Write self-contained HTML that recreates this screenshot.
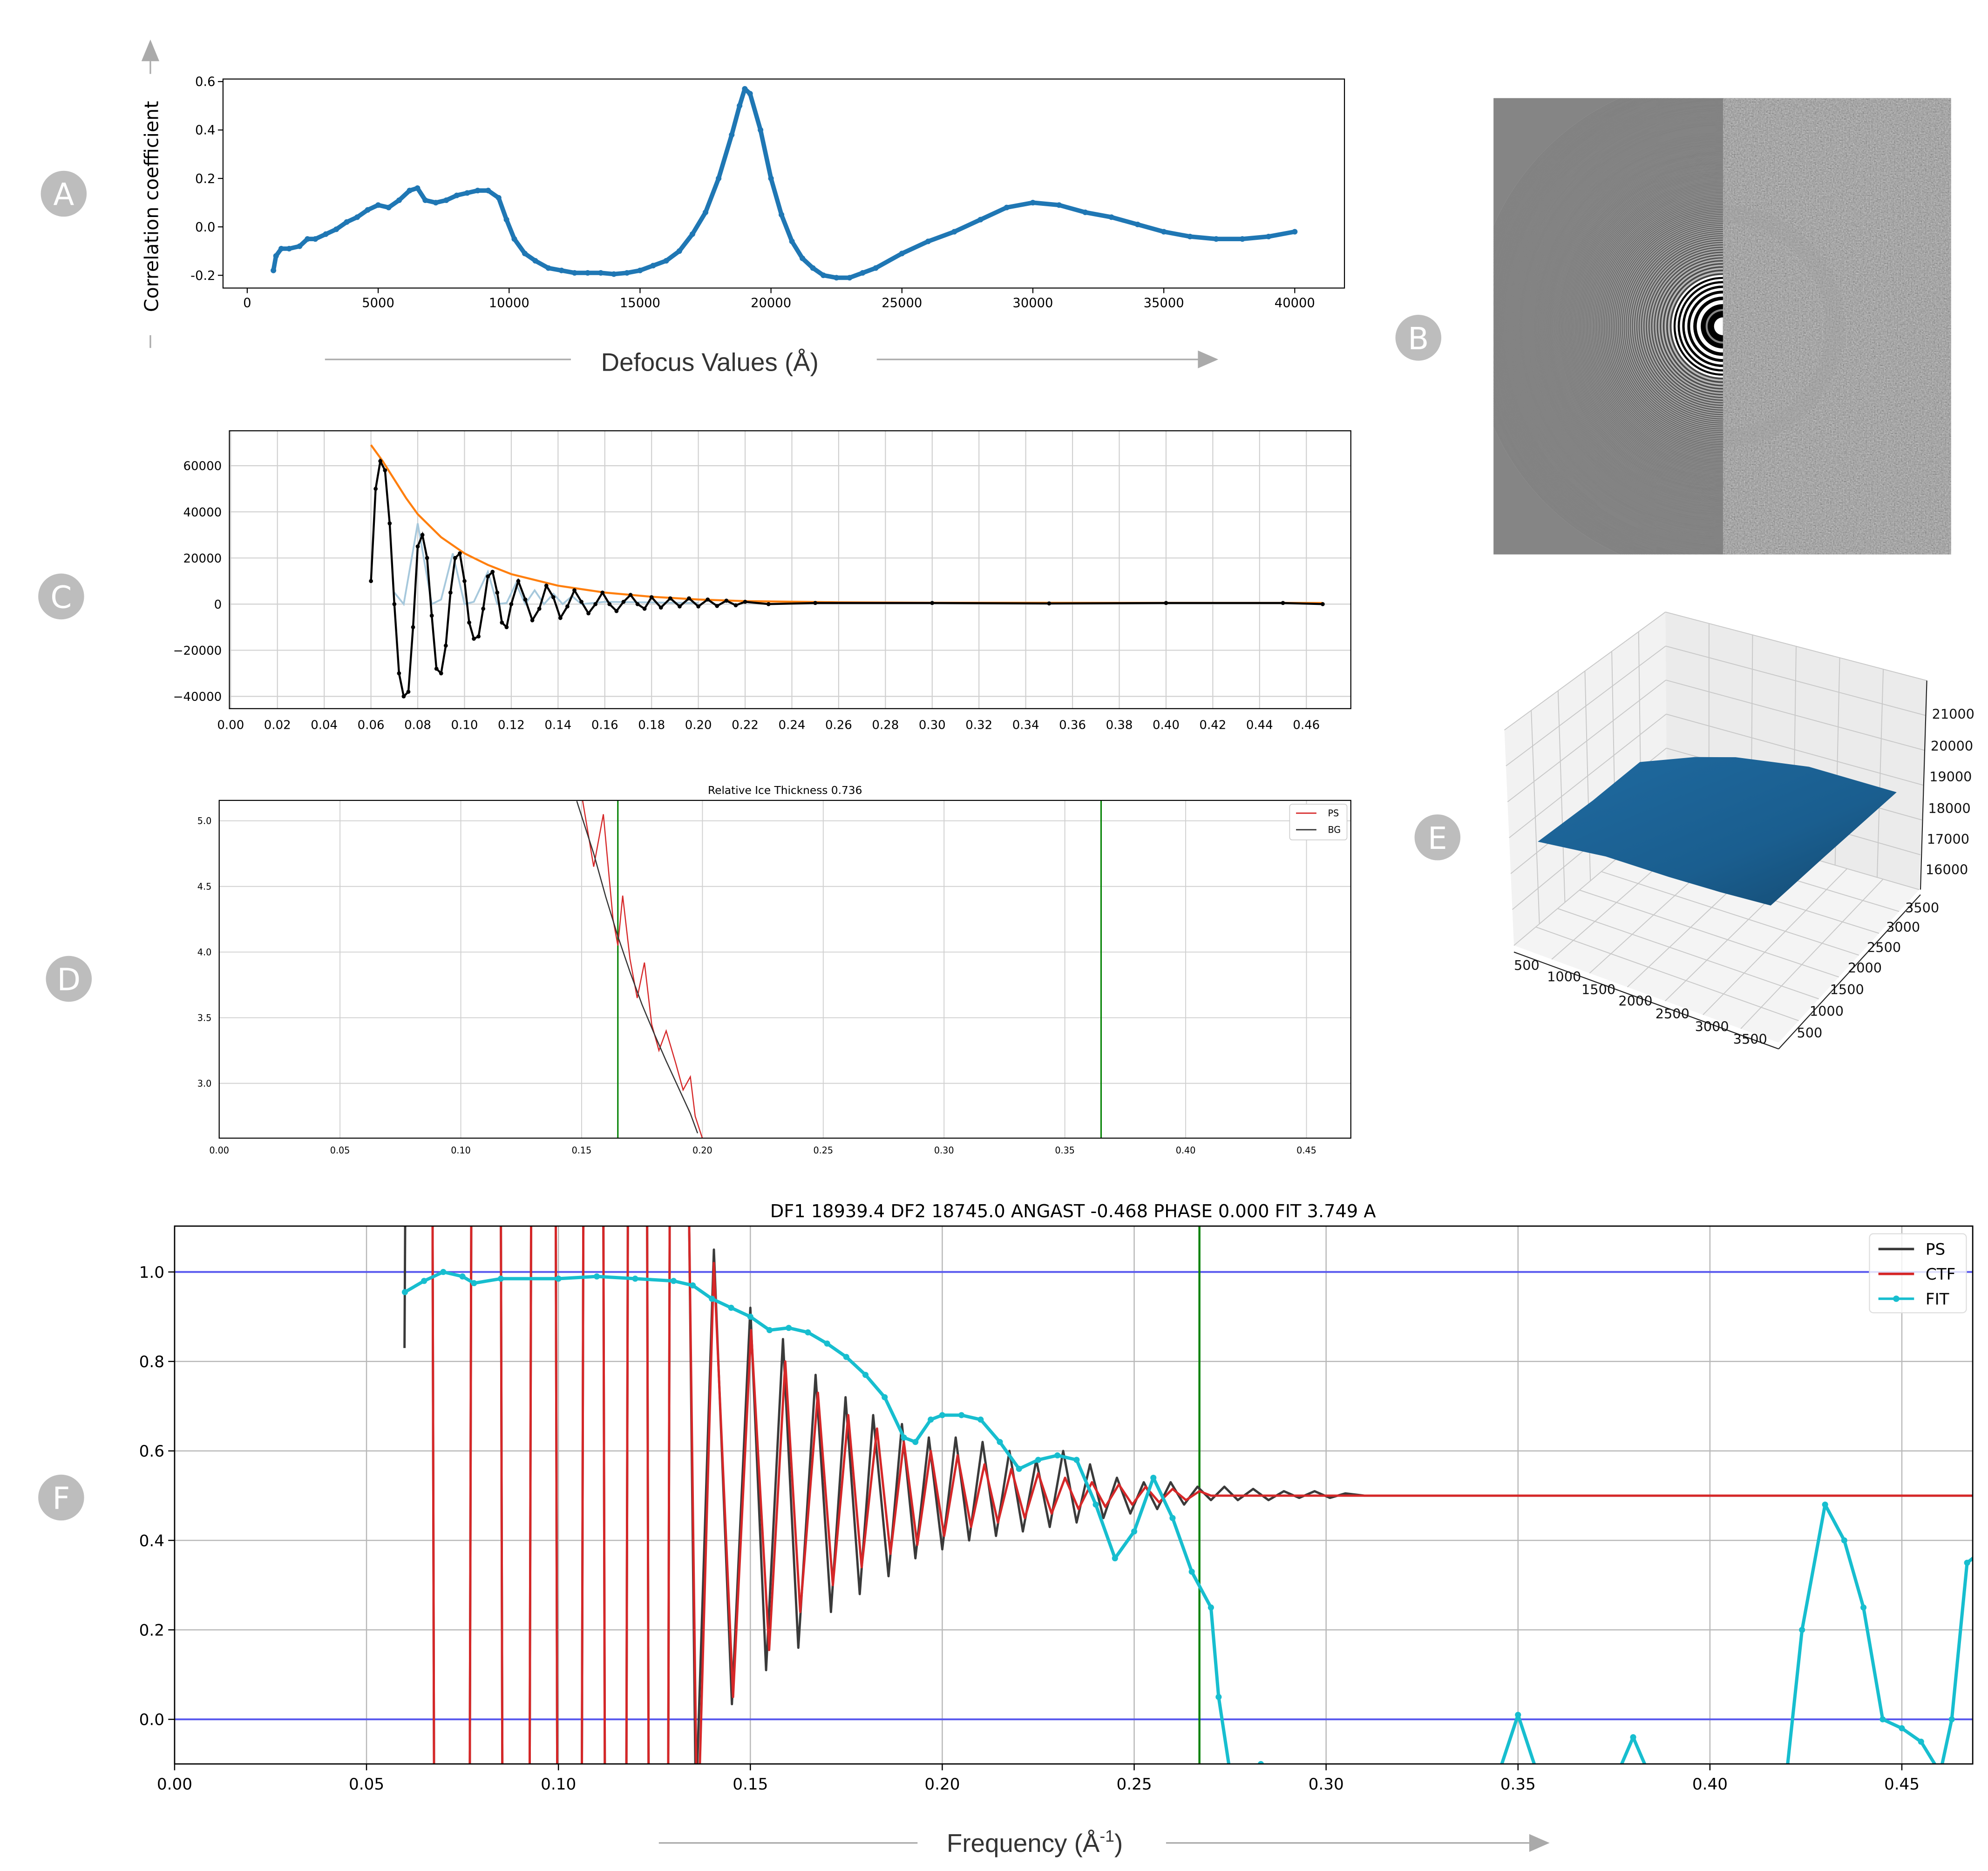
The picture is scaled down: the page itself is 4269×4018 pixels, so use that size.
<!DOCTYPE html>
<html><head><meta charset="utf-8">
<style>
html,body{margin:0;padding:0;background:#fff;width:4269px;height:4018px;overflow:hidden;}
svg{display:block;position:absolute;left:0;top:0;}
text{font-family:"DejaVu Sans","Liberation Sans",sans-serif;}
</style></head>
<body>
<svg id="fig" xmlns="http://www.w3.org/2000/svg" width="4269" height="4018" viewBox="0 0 1560 1468" preserveAspectRatio="none">
<defs>
<clipPath id="clipA"><rect x="175" y="62" width="880" height="164"/></clipPath>
<clipPath id="clipC"><rect x="180" y="338" width="880" height="218"/></clipPath>
<clipPath id="clipD"><rect x="172" y="628" width="888" height="265"/></clipPath>
<clipPath id="clipF"><rect x="137" y="962" width="1411" height="422"/></clipPath>
<clipPath id="clipBL"><rect x="1172" y="77" width="180" height="358"/></clipPath>
<clipPath id="clipBR"><rect x="1352" y="77" width="179" height="358"/></clipPath>
<filter id="noise" x="0" y="0" width="100%" height="100%">
<feTurbulence type="fractalNoise" baseFrequency="0.9" numOctaves="2" seed="3"/>
<feColorMatrix type="matrix" values="0.33 0.33 0.33 0 0  0.33 0.33 0.33 0 0  0.33 0.33 0.33 0 0  0 0 0 0 1"/>
</filter>
<linearGradient id="surfGrad" x1="0" y1="0" x2="1" y2="1">
<stop offset="0" stop-color="#1f6aa0"/><stop offset="0.6" stop-color="#1a5e8f"/><stop offset="1" stop-color="#14496f"/>
</linearGradient>
</defs>

<g fill="#bdbdbd">
<circle cx="50" cy="152" r="18"/>
<circle cx="1113" cy="265" r="18"/>
<circle cx="48" cy="468" r="18"/>
<circle cx="54" cy="768" r="18"/>
<circle cx="1128" cy="657" r="18"/>
<circle cx="48" cy="1175" r="18"/>
</g>
<g fill="#fff" font-size="24" text-anchor="middle" style="font-family:'Liberation Sans',sans-serif">
<text x="50" y="161">A</text>
<text x="1113" y="274">B</text>
<text x="48" y="477">C</text>
<text x="54" y="777">D</text>
<text x="1128" y="666">E</text>
<text x="48" y="1184">F</text>
</g>

<g>
<polygon points="111,48 125,48 118,31" fill="#aaa"/>
<line x1="118" y1="48" x2="118" y2="58" stroke="#aaa" stroke-width="1.2"/>
<line x1="118" y1="263" x2="118" y2="273" stroke="#aaa" stroke-width="1.2"/>
<text transform="translate(124,162) rotate(-90)" font-size="15" text-anchor="middle" fill="#000">Correlation coefficient</text>
<line x1="255" y1="282" x2="448" y2="282" stroke="#aaa" stroke-width="1.2"/>
<line x1="688" y1="282" x2="942" y2="282" stroke="#aaa" stroke-width="1.2"/>
<polygon points="940,275 940,289 956,282" fill="#aaa"/>
<text x="557" y="291" font-size="20" text-anchor="middle" fill="#333" style="font-family:'Liberation Sans',sans-serif">Defocus Values (Å)</text>
</g>
<g id="panelA"></g>

<g>
<rect x="1172" y="77" width="359" height="358" fill="#7d7d7d"/>
<g clip-path="url(#clipBR)">
<rect x="1352" y="77" width="179" height="358" fill="#6a6a6a"/>
<rect x="1352" y="77" width="179" height="358" filter="url(#noise)" opacity="0.75"/>
<circle cx="1352" cy="256" r="88" fill="none" stroke="#a0a0a0" stroke-width="14" opacity="0.3"/>
</g>
<g id="rings" clip-path="url(#clipBL)"></g>
</g>

<g>
<polygon points="1180.5,572.8 1306.9,480.2 1308,640.4 1188,741.8" fill="#f2f2f2"/>
<polygon points="1306.9,480.2 1512,534 1506,698 1308,640.4" fill="#ebebeb"/>
<polygon points="1188,741.8 1308,640.4 1506,698 1395.7,818" fill="#f4f4f4"/>
<g id="grid3d" stroke="#c8c8c8" stroke-width="0.7"></g>
<polygon points="1206.7,660.4 1250,628 1286.8,597.9 1330,594 1361.9,594.1 1419.5,601.6 1488.3,621.6 1430.8,673 1389.5,710.5 1350,700 1309.4,688 1260,672" fill="url(#surfGrad)"/>
<line x1="1188" y1="747" x2="1395.7" y2="823" stroke="#222" stroke-width="0.8"/>
<line x1="1395.7" y1="823" x2="1507" y2="702" stroke="#222" stroke-width="0.8"/>
<line x1="1512" y1="534" x2="1507" y2="698" stroke="#222" stroke-width="0.8"/>
<g font-size="10.5" fill="#111">
<text x="1188" y="761">500</text>
<text x="1214" y="770">1000</text>
<text x="1241" y="780">1500</text>
<text x="1270" y="789">2000</text>
<text x="1299" y="799">2500</text>
<text x="1330" y="809">3000</text>
<text x="1360" y="819">3500</text>
<text x="1410" y="814">500</text>
<text x="1420" y="797">1000</text>
<text x="1436" y="780">1500</text>
<text x="1450" y="763">2000</text>
<text x="1465" y="747">2500</text>
<text x="1480" y="731">3000</text>
<text x="1495" y="716">3500</text>
<text x="1516" y="564">21000</text>
<text x="1515" y="589">20000</text>
<text x="1514" y="613">19000</text>
<text x="1513" y="638">18000</text>
<text x="1512" y="662">17000</text>
<text x="1511" y="686">16000</text>
</g>
</g>

<g id="panelC"></g>
<g id="panelD"></g>
<g id="panelF"></g>

<g>
<line x1="517" y1="1446" x2="720" y2="1446" stroke="#aaa" stroke-width="1.2"/>
<line x1="915" y1="1446" x2="1200" y2="1446" stroke="#aaa" stroke-width="1.2"/>
<polygon points="1200,1439 1200,1453 1216,1446" fill="#aaa"/>
<text x="812" y="1453" font-size="20" text-anchor="middle" fill="#333" style="font-family:'Liberation Sans',sans-serif">Frequency (Å<tspan font-size="13" dy="-8">-1</tspan><tspan dy="8">)</tspan></text>
</g>

<script>
const aDefocus=[1000,1100,1300,1600,2000,2300,2600,3000,3400,3800,4200,4600,5000,5400,5800,6200,6500,6800,7200,7600,8000,8400,8800,9200,9600,9900,10200,10600,11000,11500,12000,12500,13000,13500,14000,14500,15000,15500,16000,16500,17000,17500,18000,18500,18800,19000,19200,19600,20000,20400,20800,21200,21600,22000,22500,23000,23500,24000,25000,26000,27000,28000,29000,30000,31000,32000,33000,34000,35000,36000,37000,38000,39000,40000];
const aCorr=[-0.18,-0.12,-0.09,-0.09,-0.08,-0.05,-0.05,-0.03,-0.01,0.02,0.04,0.07,0.09,0.08,0.11,0.15,0.16,0.11,0.10,0.11,0.13,0.14,0.15,0.15,0.12,0.03,-0.05,-0.11,-0.14,-0.17,-0.18,-0.19,-0.19,-0.19,-0.195,-0.19,-0.18,-0.16,-0.14,-0.1,-0.03,0.06,0.2,0.38,0.5,0.57,0.55,0.4,0.2,0.05,-0.06,-0.13,-0.17,-0.2,-0.21,-0.21,-0.19,-0.17,-0.11,-0.06,-0.02,0.03,0.08,0.1,0.09,0.06,0.04,0.01,-0.02,-0.04,-0.05,-0.05,-0.04,-0.02];
const aXTicks=[0,5000,10000,15000,20000,25000,30000,35000,40000];
const aYTicks=[-0.2,0.0,0.2,0.4,0.6];
const cFreq=[0.060,0.062,0.064,0.066,0.068,0.070,0.072,0.074,0.076,0.078,0.080,0.082,0.084,0.086,0.088,0.090,0.092,0.094,0.096,0.098,0.100,0.102,0.104,0.106,0.108,0.110,0.112,0.114,0.116,0.118,0.120,0.123,0.126,0.129,0.132,0.135,0.138,0.141,0.144,0.147,0.150,0.153,0.156,0.159,0.162,0.165,0.168,0.171,0.174,0.177,0.180,0.184,0.188,0.192,0.196,0.200,0.204,0.208,0.212,0.216,0.220,0.230,0.250,0.300,0.350,0.400,0.450,0.467];
const cSignal=[10000,50000,62000,58000,35000,0,-30000,-40000,-38000,-10000,25000,30000,20000,-5000,-28000,-30000,-18000,5000,20000,22000,10000,-8000,-15000,-14000,-2000,12000,14000,5000,-8000,-10000,0,10000,2000,-7000,-2000,8000,3000,-6000,-1000,6000,1000,-4000,0,5000,0,-3000,1000,4000,0,-2000,3000,-1500,2500,-1000,2500,-1000,2000,-800,1500,-500,1000,0,500,500,300,500,500,0];
const cFitFreq=[0.070,0.074,0.080,0.086,0.090,0.095,0.100,0.104,0.110,0.114,0.118,0.122,0.126,0.130,0.134,0.138,0.142,0.146,0.150,0.160,0.200];
const cFitVal=[5000,0,35000,0,2000,22000,0,1000,14000,0,500,9000,0,6000,0,4500,0,3500,0,1000,500];
const cEnvFreq=[0.060,0.065,0.070,0.075,0.080,0.090,0.100,0.110,0.120,0.140,0.160,0.180,0.200,0.220,0.260,0.300,0.467];
const cEnvVal=[69000,62000,54000,46000,39000,29000,22000,17000,13000,8000,5000,3200,2000,1300,800,600,500];
const cXTicks=[0,0.02,0.04,0.06,0.08,0.10,0.12,0.14,0.16,0.18,0.20,0.22,0.24,0.26,0.28,0.30,0.32,0.34,0.36,0.38,0.40,0.42,0.44,0.46];
const cYTicks=[-40000,-20000,0,20000,40000,60000];
const dBgFreq=[0.148,0.155,0.160,0.165,0.170,0.175,0.180,0.185,0.190,0.195,0.198];
const dBgVal=[5.15,4.75,4.42,4.12,3.85,3.60,3.38,3.17,2.97,2.77,2.62];
const dPsFreq=[0.150,0.155,0.159,0.163,0.165,0.167,0.170,0.173,0.176,0.179,0.182,0.185,0.189,0.192,0.195,0.197,0.200];
const dPsVal=[5.2,4.65,5.05,4.25,4.05,4.43,3.95,3.65,3.92,3.45,3.25,3.4,3.15,2.95,3.05,2.75,2.58];
const dMarkers=[0.165,0.365];
const dXTicks=[0,0.05,0.10,0.15,0.20,0.25,0.30,0.35,0.40,0.45];
const dYTicks=[3.0,3.5,4.0,4.5,5.0];
const fCtfFreq=[0.066,0.0672,0.0676,0.0769,0.0773,0.0850,0.0854,0.0925,0.0929,0.0993,0.0997,0.1061,0.1065,0.1117,0.1121,0.1177,0.1181,0.1231,0.1235,0.1286,0.1290,0.1340,0.1362,0.1405,0.1455,0.1502,0.1549,0.1591,0.1630,0.1676,0.1715,0.1755,0.1790,0.1830,0.1865,0.1900,0.1935,0.1970,0.2005,0.2040,0.2075,0.2110,0.2145,0.2180,0.2215,0.2250,0.2285,0.2320,0.2355,0.2390,0.2425,0.2460,0.2495,0.2530,0.2565,0.2600,0.2635,0.2670,0.2700,0.3500,0.4700];
const fCtfVal=[1.15,1.15,-0.15,-0.15,1.15,1.15,-0.15,-0.15,1.15,1.15,-0.15,-0.15,1.15,1.15,-0.15,-0.15,1.15,1.15,-0.15,-0.15,1.15,1.15,-0.3,1.02,0.05,0.87,0.155,0.80,0.24,0.73,0.3,0.68,0.34,0.65,0.37,0.62,0.39,0.6,0.41,0.59,0.43,0.57,0.44,0.56,0.45,0.55,0.46,0.54,0.47,0.53,0.475,0.525,0.48,0.52,0.485,0.515,0.49,0.51,0.5,0.5,0.5];
const fPsFreq=[0.0599,0.0601,0.0672,0.0676,0.0769,0.0773,0.0850,0.0854,0.0925,0.0929,0.0993,0.0997,0.1061,0.1065,0.1117,0.1121,0.1177,0.1181,0.1231,0.1235,0.1286,0.1290,0.1340,0.1358,0.1405,0.1452,0.1500,0.1541,0.1585,0.1625,0.1670,0.1710,0.1748,0.1785,0.1820,0.1860,0.1895,0.1930,0.1965,0.2000,0.2035,0.2070,0.2105,0.2140,0.2175,0.2210,0.2245,0.2280,0.2315,0.2350,0.2385,0.2420,0.2455,0.2490,0.2525,0.2560,0.2595,0.2630,0.2665,0.2700,0.2735,0.2770,0.2810,0.2850,0.2890,0.2930,0.2970,0.3010,0.3050,0.3100,0.4700];
const fPsVal=[0.83,1.15,1.15,-0.15,-0.15,1.15,1.15,-0.15,-0.15,1.15,1.15,-0.15,-0.15,1.15,1.15,-0.15,-0.15,1.15,1.15,-0.15,-0.15,1.15,1.15,-0.2,1.05,0.034,0.92,0.11,0.85,0.16,0.77,0.24,0.72,0.28,0.68,0.32,0.66,0.36,0.63,0.38,0.63,0.4,0.62,0.41,0.6,0.42,0.58,0.43,0.6,0.44,0.57,0.45,0.54,0.46,0.53,0.47,0.53,0.48,0.52,0.49,0.52,0.49,0.515,0.49,0.51,0.495,0.51,0.495,0.505,0.5,0.5];
const fFitFreq=[0.060,0.065,0.070,0.075,0.078,0.085,0.100,0.110,0.120,0.130,0.135,0.140,0.145,0.150,0.155,0.160,0.165,0.170,0.175,0.180,0.185,0.190,0.193,0.197,0.200,0.205,0.210,0.215,0.220,0.225,0.230,0.235,0.240,0.245,0.250,0.255,0.260,0.265,0.270,0.272,0.275,0.280,0.283,0.286,0.345,0.350,0.355,0.376,0.380,0.384,0.420,0.424,0.430,0.435,0.440,0.445,0.450,0.455,0.460,0.463,0.467,0.470];
const fFitVal=[0.955,0.98,1.0,0.99,0.975,0.985,0.985,0.99,0.985,0.98,0.97,0.94,0.92,0.9,0.87,0.875,0.865,0.84,0.81,0.77,0.72,0.63,0.62,0.67,0.68,0.68,0.67,0.62,0.56,0.58,0.59,0.58,0.48,0.36,0.42,0.54,0.45,0.33,0.25,0.05,-0.12,-0.15,-0.1,-0.15,-0.12,0.01,-0.12,-0.12,-0.04,-0.12,-0.12,0.2,0.48,0.4,0.25,0.0,-0.02,-0.05,-0.12,0.0,0.35,0.37];
const fXTicks=[0,0.05,0.10,0.15,0.20,0.25,0.30,0.35,0.40,0.45];
const fYTicks=[0.0,0.2,0.4,0.6,0.8,1.0];
const fRefLines=[0.0,1.0];
const fMarker=[0.267];

const NS='http://www.w3.org/2000/svg';
function mk(tag,parent,attrs){const e=document.createElementNS(NS,tag);for(const k in attrs)e.setAttribute(k,attrs[k]);parent.appendChild(e);return e;}
function pts(xs,ys,sx,sy){return xs.map((x,i)=>sx(x).toFixed(2)+','+sy(ys[i]).toFixed(2)).join(' ');}
function fmt(v,d){return v.toFixed(d);}

(function(){
const g=document.getElementById('panelA');
const sx=v=>194+v*(822/40000), sy=v=>178-v*190;
const box=mk('rect',g,{x:175,y:62,width:880,height:164,fill:'none',stroke:'#000','stroke-width':0.8});


aXTicks.forEach(t=>{
const l=mk('line',g,{x1:sx(t),y1:226,x2:sx(t),y2:230,stroke:'#000','stroke-width':0.8});


const tx=mk('text',g,{x:sx(t),y:241,'font-size':10,'text-anchor':'middle',fill:'#000'});
tx.textContent=String(t);


});
aYTicks.forEach(t=>{
const l=mk('line',g,{x1:171,y1:sy(t),x2:175,y2:sy(t),stroke:'#000','stroke-width':0.8});


const tx=mk('text',g,{x:169,y:sy(t)+3.5,'font-size':10,'text-anchor':'end',fill:'#000'});
tx.textContent=fmt(t,1);


});
const c=mk('g',g,{'clip-path':'url(#clipA)'});
const pl=mk('polyline',c,{points:pts(aDefocus,aCorr,sx,sy),fill:'none',stroke:'#1f77b4','stroke-width':3.5,'stroke-linejoin':'round'});


aDefocus.forEach((x,i)=>{
const d=mk('circle',c,{cx:sx(x),cy:sy(aCorr[i]),r:2.2,fill:'#1f77b4'});


});
})();

(function(){
const g=document.getElementById('rings');
const bg=mk('rect',g,{x:1172,y:77,width:180,height:358,fill:'#858585'});


const k=15.5;
for(let n=1;n<=160;n++){
const r=k*Math.sqrt(n);const sp=k*k/(2*r);
const strong=sp>3;
const c=mk('circle',g,{cx:1352,cy:256,r:r.toFixed(2),fill:'none',stroke:'#000','stroke-width':(sp*0.5).toFixed(2),'stroke-opacity':(strong?1:Math.max(0.12,0.5*sp/3)).toFixed(2)});


const w=mk('circle',g,{cx:1352,cy:256,r:(r+sp*0.5).toFixed(2),fill:'none',stroke:'#fff','stroke-width':(sp*0.5).toFixed(2),'stroke-opacity':(strong?1:Math.max(0.1,0.45*sp/3)).toFixed(2)});


}
const cb=mk('circle',g,{cx:1352,cy:256,r:12,fill:'#000'});


const cd=mk('circle',g,{cx:1352,cy:256,r:7,fill:'#fff'});


})();

(function(){
const g=document.getElementById('grid3d');
function lerp(a,b,t){return [a[0]+(b[0]-a[0])*t,a[1]+(b[1]-a[1])*t];}
const LT=[1180.5,572.8],BT=[1306.9,480.2],BB=[1308,640.4],LB=[1188,741.8],RT=[1512,534],RB=[1506,698],FB=[1395.7,818];
function seg(p,q,name){const l=mk('line',g,{x1:p[0],y1:p[1],x2:q[0],y2:q[1]});}
for(let i=1;i<6;i++){const t=i/6;seg(lerp(LT,BT,t),lerp(LB,BB,t),'left-pane-grid');seg(lerp(BT,RT,t),lerp(BB,RB,t),'right-pane-grid');}
for(let i=0;i<7;i++){const t=i/6;seg(lerp(LT,LB,t),lerp(BT,BB,t),'left-pane-grid');seg(lerp(BT,BB,t),lerp(RT,RB,t),'right-pane-grid');}
for(let i=1;i<7;i++){const t=i/7;seg(lerp(LB,FB,t),lerp(BB,RB,t),'floor-grid');seg(lerp(FB,RB,t),lerp(LB,BB,t),'floor-grid');}
})();

(function(){
const g=document.getElementById('panelC');
const sx=v=>181+v*(36.7/0.02), sy=v=>474-v*(36.2/20000);
cXTicks.forEach(t=>{
const l=mk('line',g,{x1:sx(t),y1:338,x2:sx(t),y2:556,stroke:'#d0d0d0','stroke-width':0.8});


const tx=mk('text',g,{x:sx(t),y:572,'font-size':9.5,'text-anchor':'middle',fill:'#000'});
tx.textContent=fmt(t,2);


});
cYTicks.forEach(t=>{
const l=mk('line',g,{x1:180,y1:sy(t),x2:1060,y2:sy(t),stroke:'#d0d0d0','stroke-width':0.8});


const tx=mk('text',g,{x:174,y:sy(t)+3.5,'font-size':9.5,'text-anchor':'end',fill:'#000'});
tx.textContent=String(t).replace('-','\u2212');


});
const c=mk('g',g,{'clip-path':'url(#clipC)'});
const fit=mk('polyline',c,{points:pts(cFitFreq,cFitVal,sx,sy),fill:'none',stroke:'#a6c8dc','stroke-width':1.4});


const env=mk('polyline',c,{points:pts(cEnvFreq,cEnvVal,sx,sy),fill:'none',stroke:'#ff7f0e','stroke-width':1.6});


const sig=mk('polyline',c,{points:pts(cFreq,cSignal,sx,sy),fill:'none',stroke:'#000','stroke-width':1.6});


cFreq.forEach((x,i)=>{
const d=mk('circle',c,{cx:sx(x),cy:sy(cSignal[i]),r:1.6,fill:'#000'});


});
const box=mk('rect',g,{x:180,y:338,width:880,height:218,fill:'none',stroke:'#000','stroke-width':0.8});


})();

(function(){
const g=document.getElementById('panelD');
const sx=v=>172+v*(94.8/0.05);
const syy=v=>644+(5.0-v)*103;
dXTicks.forEach(t=>{
const l=mk('line',g,{x1:sx(t),y1:628,x2:sx(t),y2:893,stroke:'#d0d0d0','stroke-width':0.7});


const tx=mk('text',g,{x:sx(t),y:905,'font-size':7,'text-anchor':'middle',fill:'#000'});
tx.textContent=fmt(t,2);


});
dYTicks.forEach(t=>{
const l=mk('line',g,{x1:172,y1:syy(t),x2:1060,y2:syy(t),stroke:'#d0d0d0','stroke-width':0.7});


const tx=mk('text',g,{x:166,y:syy(t)+2.5,'font-size':7,'text-anchor':'end',fill:'#000'});
tx.textContent=fmt(t,1);


});
const c=mk('g',g,{'clip-path':'url(#clipD)'});
dMarkers.forEach(m=>{
const l=mk('line',c,{x1:sx(m),y1:628,x2:sx(m),y2:893,stroke:'#008000','stroke-width':1.1});


});
const ps=mk('polyline',c,{points:pts(dPsFreq,dPsVal,sx,syy),fill:'none',stroke:'#d62728','stroke-width':0.9});


const bg=mk('polyline',c,{points:pts(dBgFreq,dBgVal,sx,syy),fill:'none',stroke:'#333','stroke-width':0.9});


const box=mk('rect',g,{x:172,y:628,width:888,height:265,fill:'none',stroke:'#000','stroke-width':0.8});


const title=mk('text',g,{x:616,y:623,'font-size':8.5,'text-anchor':'middle',fill:'#000'});
title.textContent='Relative Ice Thickness 0.736';


const lg=mk('rect',g,{x:1012,y:631,width:45,height:28,fill:'#fff',stroke:'#ccc','stroke-width':0.6,rx:2});


const l1=mk('line',g,{x1:1017,y1:638,x2:1033,y2:638,stroke:'#d62728','stroke-width':1});


const t1=mk('text',g,{x:1042,y:640.5,'font-size':7,fill:'#000'});t1.textContent='PS';


const l2=mk('line',g,{x1:1017,y1:651,x2:1033,y2:651,stroke:'#333','stroke-width':1});


const t2=mk('text',g,{x:1042,y:653.5,'font-size':7,fill:'#000'});t2.textContent='BG';


})();

(function(){
const g=document.getElementById('panelF');
const sx=v=>137+v*(150.6/0.05), sy=v=>1349-v*351;
fXTicks.forEach(t=>{
const l=mk('line',g,{x1:sx(t),y1:962,x2:sx(t),y2:1384,stroke:'#b8b8b8','stroke-width':0.9});


const tk=mk('line',g,{x1:sx(t),y1:1384,x2:sx(t),y2:1389,stroke:'#000','stroke-width':0.9});


const tx=mk('text',g,{x:sx(t),y:1404,'font-size':12.5,'text-anchor':'middle',fill:'#000'});
tx.textContent=fmt(t,2);


});
fYTicks.forEach(t=>{
const l=mk('line',g,{x1:137,y1:sy(t),x2:1548,y2:sy(t),stroke:'#b8b8b8','stroke-width':0.9});


const tk=mk('line',g,{x1:132,y1:sy(t),x2:137,y2:sy(t),stroke:'#000','stroke-width':0.9});


const tx=mk('text',g,{x:129,y:sy(t)+4.5,'font-size':12.5,'text-anchor':'end',fill:'#000'});
tx.textContent=fmt(t,1);


});
const c=mk('g',g,{'clip-path':'url(#clipF)'});
fRefLines.forEach(v=>{
const l=mk('line',c,{x1:137,y1:sy(v),x2:1548,y2:sy(v),stroke:'#5555ee','stroke-width':1.4});


});
fMarker.forEach(m=>{
const l=mk('line',c,{x1:sx(m),y1:962,x2:sx(m),y2:1384,stroke:'#008000','stroke-width':1.6});


});
const ps=mk('polyline',c,{points:pts(fPsFreq,fPsVal,sx,sy),fill:'none',stroke:'#3a3a3a','stroke-width':1.8,'stroke-linejoin':'round'});


const ctf=mk('polyline',c,{points:pts(fCtfFreq,fCtfVal,sx,sy),fill:'none',stroke:'#d62728','stroke-width':1.8,'stroke-linejoin':'round'});


const fit=mk('polyline',c,{points:pts(fFitFreq,fFitVal,sx,sy),fill:'none',stroke:'#17becf','stroke-width':2.6,'stroke-linejoin':'round'});


fFitFreq.forEach((x,i)=>{
const d=mk('circle',c,{cx:sx(x),cy:sy(fFitVal[i]),r:2.4,fill:'#17becf'});


});
const box=mk('rect',g,{x:137,y:962,width:1411,height:422,fill:'none',stroke:'#000','stroke-width':1});


const title=mk('text',g,{x:842,y:955,'font-size':14,'text-anchor':'middle',fill:'#000'});
title.textContent='DF1 18939.4 DF2 18745.0 ANGAST -0.468 PHASE 0.000 FIT 3.749 A';


const lg=mk('rect',g,{x:1467,y:968,width:76,height:62,fill:'#fff','fill-opacity':0.8,stroke:'#ddd','stroke-width':0.8,rx:3});


const names=['PS','CTF','FIT'], cols=['#3a3a3a','#d62728','#17becf'];
names.forEach((n,i)=>{
const y=980+i*19.5;
const l=mk('line',g,{x1:1474,y1:y,x2:1502,y2:y,stroke:cols[i],'stroke-width':2});


if(i===2){const d=mk('circle',g,{cx:1488,cy:y,r:2.5,fill:cols[i]});

}
const t=mk('text',g,{x:1511,y:y+4.5,'font-size':12.5,fill:'#000'});t.textContent=n;


});
})();
</script>
</svg>
</body></html>
